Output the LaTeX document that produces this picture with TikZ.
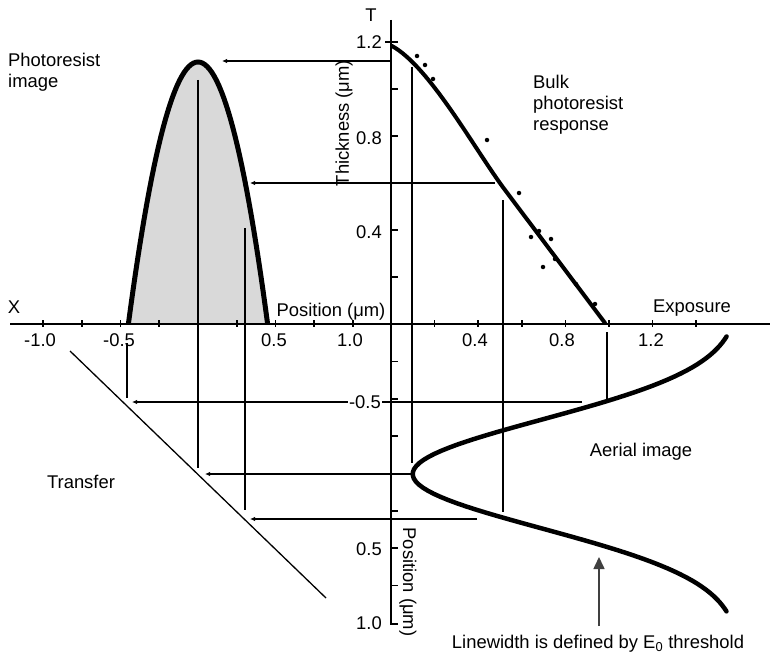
\documentclass[tikz,border=0pt]{standalone}
\usepackage{fontspec}
\setmainfont{Liberation Sans}
\usetikzlibrary{arrows.meta}
\begin{document}
\begin{tikzpicture}[x=1pt,y=-1pt,
  lbl/.style={inner sep=0pt, font=\fontsize{18.4}{21}\selectfont},
  axisline/.style={line width=2.2pt},
  tickmark/.style={line width=1.6pt},
  proj/.style={line width=1.4pt},
  projarrow/.style={proj, -{Latex[length=5pt,width=4.5pt]}},
  bigcurve/.style={line width=4.5pt, line cap=round},
  datadot/.style={circle, fill=black, inner sep=0pt, minimum size=4.5pt}
]
\useasboundingbox (0,0) rectangle (770,658);

% photoresist image
\fill[gray!30] plot[domain=-69.6:69.6, samples=61] ({198+\x},{62+(\x)*(\x)/18.5}) -- cycle;
\draw[line width=5pt] plot[domain=-69.6:69.6, samples=61] ({198+\x},{62+(\x)*(\x)/18.5});

% axes
\coordinate (xl) at (10,324);
\coordinate (xr) at (770,324);
\coordinate (ttop) at (391,20);
\coordinate (tbot) at (391,624);
\coordinate (foot) at (398,624);
\draw[axisline] (xl) -- (xr);
\draw[axisline] (ttop) -- (tbot) -- (foot);

% ticks horizontal axis
\foreach \k in {0,...,8} \draw[tickmark] ({43+38.75*\k},320) -- ({43+38.75*\k},327);
\foreach \k in {1,...,7} \draw[tickmark] ({391+43.6*\k},320) -- ({391+43.6*\k},327);
% ticks vertical axis
\foreach \k in {1,...,5} \draw[tickmark] (391,{324-47*\k}) -- (398,{324-47*\k});
\draw[tickmark] (385,42) -- (398,42);
\foreach \k in {1,...,7} \draw[tickmark] (391,{324+37.375*\k}) -- (398,{324+37.375*\k});

% bulk photoresist response
\coordinate (bs) at (392,46);
\coordinate (bm) at (505,190);
\coordinate (be) at (605,323);
\draw[line width=4pt, line cap=round] (bs) .. controls (430,67) and (475,150) .. (bm) -- (be);
\foreach \p [count=\i] in {(417,56),(425,65),(433,79),(487,140),(519,193),(531,237),(539,231),(551,239),(555,259),(543,267),(576,284),(595,304)}
  \node[datadot] (d\i) at \p {};

% aerial image
\draw[bigcurve] plot[domain=-0.92:0.92, samples=90] ({391+218*(1.6-1.5*exp(-(\x)*(\x)/0.264))},{474+149.5*\x});

% transfer line
\coordinate (tr1) at (70,351);
\coordinate (tr2) at (326,598);
\draw[line width=1.3pt] (tr1) -- (tr2);

% projection lines
\coordinate (a1) at (412,67);   \coordinate (a2) at (412,463);
\coordinate (b1) at (391,61);   \coordinate (b2) at (222,61);
\coordinate (c1) at (198,80);   \coordinate (c2) at (198,468);
\coordinate (e1) at (413,474);  \coordinate (e2) at (205,474);
\coordinate (f1) at (503,200);  \coordinate (f2) at (503,512);
\coordinate (g1) at (495,183);  \coordinate (g2) at (250,183);
\coordinate (h1) at (245,228);  \coordinate (h2) at (245,510);
\coordinate (i1) at (477,519);  \coordinate (i2) at (250,519);
\coordinate (j1) at (607,332);  \coordinate (j2) at (607,400);
\coordinate (k1) at (582,402);  \coordinate (k2) at (132,402);
\coordinate (m1) at (127,343);  \coordinate (m2) at (127,398);
\draw[proj] (a1) -- (a2);
\draw[projarrow] (b1) -- (b2);
\draw[proj] (c1) -- (c2);
\draw[projarrow] (e1) -- (e2);
\draw[proj] (f1) -- (f2);
\draw[projarrow] (g1) -- (g2);
\draw[proj] (h1) -- (h2);
\draw[projarrow] (i1) -- (i2);
\draw[proj] (j1) -- (j2);
\draw[projarrow] (k1) -- (k2);
\draw[proj] (m1) -- (m2);

% labels
\node[lbl] (T) at (371,15) {T};
\node[lbl] (X) at (14,307) {X};
\node[lbl, anchor=west, align=left] (pimg) at (8,72) {Photoresist\\image};
\node[lbl, anchor=west, align=left] (bulk) at (533,105) {Bulk\\photoresist\\response};
\node[lbl] (transfer) at (81,482) {Transfer};
\node[lbl] (aerial) at (641,452) {Aerial image};
\node[lbl] (posh) at (331,312) {Position (μm)};
\node[lbl] (expo) at (692,308) {Exposure};
\node[lbl, rotate=90] (thick) at (344,123) {Thickness (μm)};
\node[lbl, rotate=-90] (posv) at (408,582) {Position (μm)};
\node[lbl] (lw) at (598,644) {Linewidth is defined by E\textsubscript{0} threshold};

% x tick labels
\node[lbl] (xm10) at (40,340) {-1.0};
\node[lbl] (xm05) at (119,340) {-0.5};
\node[lbl] (xp05) at (274,340) {0.5};
\node[lbl] (xp10) at (350,340) {1.0};
\node[lbl] (e04) at (475,340) {0.4};
\node[lbl] (e08) at (562,340) {0.8};
\node[lbl] (e12) at (651,340) {1.2};
% vertical tick labels
\node[lbl, anchor=east] (t12) at (382,42) {1.2};
\node[lbl, anchor=east] (t08) at (382,138) {0.8};
\node[lbl, anchor=east] (t04) at (382,232) {0.4};
\node[lbl, anchor=east, fill=white, inner sep=1pt] (pm05) at (382,402) {-0.5};
\node[lbl, anchor=east] (pp05) at (382,549) {0.5};
\node[lbl, anchor=east] (pp10) at (382,623) {1.0};

% threshold arrow
\coordinate (arrbot) at (599,626);
\coordinate (arrtop) at (599,557);
\draw[line width=1.6pt, black!75, -{Triangle[length=12pt,width=11pt]}] (arrbot) -- (arrtop);
\end{tikzpicture}
\end{document}
